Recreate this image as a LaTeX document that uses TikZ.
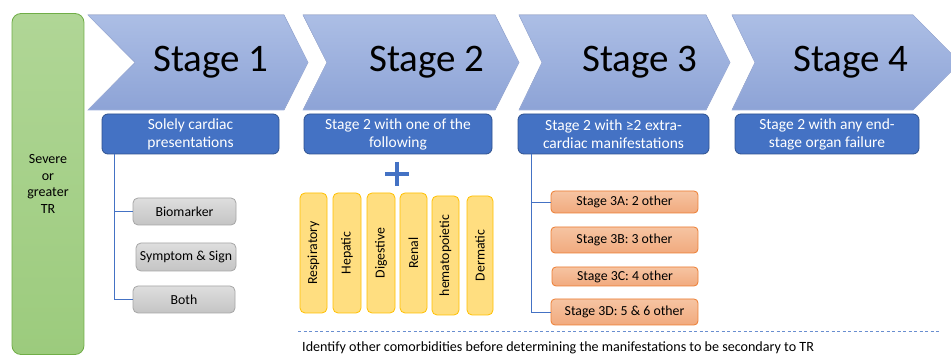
\documentclass[tikz,border=0pt]{standalone}
\usepackage{fontspec}
\setmainfont{Carlito}
\definecolor{chevtop}{RGB}{172,190,229}
\definecolor{chevbot}{RGB}{141,163,214}
\definecolor{chevline}{RGB}{160,178,222}
\definecolor{bluebox}{RGB}{68,114,196}
\definecolor{blueline}{RGB}{47,82,143}
\definecolor{greentop}{RGB}{176,214,150}
\definecolor{greenbot}{RGB}{156,203,125}
\definecolor{greenline}{RGB}{112,173,71}
\definecolor{greytop}{RGB}{222,222,222}
\definecolor{greybot}{RGB}{196,196,196}
\definecolor{greyline}{RGB}{166,166,166}
\definecolor{yellowfill}{RGB}{255,222,128}
\definecolor{yellowline}{RGB}{255,192,0}
\definecolor{orangetop}{RGB}{246,196,162}
\definecolor{orangebot}{RGB}{241,170,126}
\definecolor{orangeline}{RGB}{237,125,49}
\tikzset{
  chev/.style={top color=chevtop, bottom color=chevbot, draw=chevline, line width=0.6pt},
  stagetxt/.style={font=\fontsize{39}{44}\selectfont, text=black},
  bluehead/.style={rounded corners=6pt, fill=bluebox, draw=blueline, line width=0.8pt, text=white,
    minimum height=40pt, inner sep=0pt, align=center, font=\fontsize{15.5}{18}\selectfont},
  greybox/.style={rounded corners=5pt, top color=greytop, bottom color=greybot, draw=greyline, line width=0.8pt,
    inner sep=0pt, font=\fontsize{13.8}{16}\selectfont},
  yelbox/.style={rounded corners=5pt, fill=yellowfill, draw=yellowline, line width=0.8pt, rotate=90,
    inner sep=0pt, font=\fontsize{13.8}{16}\selectfont},
  orbox/.style={rounded corners=4pt, top color=orangetop, bottom color=orangebot, draw=orangeline, line width=0.8pt,
    inner sep=0pt, font=\fontsize{13.8}{16}\selectfont},
  treeline/.style={draw=bluebox, line width=0.8pt},
}
\begin{document}
\begin{tikzpicture}[x=1pt,y=-1pt]
\useasboundingbox (0,0) rectangle (951,355);
\fill[white] (0,0) rectangle (951,355);
% green box
\node[rounded corners=9pt, top color=greentop, bottom color=greenbot, draw=greenline, line width=0.8pt,
  minimum width=72pt, minimum height=341pt, inner sep=0pt, align=center,
  font=\fontsize{14}{16.5}\selectfont] (tr) at (48,184) {Severe\\or\\greater\\TR};
% chevrons
\begin{scope}
\clip (0,0) rectangle (951,355);
\filldraw[chev] (88,15) -- (284,15) -- (308,62.5) -- (284,110) -- (88,110) -- (135,62.5) -- cycle;
\filldraw[chev] (303,15) -- (495,15) -- (519,62.5) -- (495,110) -- (303,110) -- (327,62.5) -- cycle;
\filldraw[chev] (519,15) -- (706,15) -- (730,62.5) -- (706,110) -- (519,110) -- (542,62.5) -- cycle;
\filldraw[chev] (732,15) -- (913,15) -- (960,62.5) -- (913,110) -- (732,110) -- (755,62.5) -- cycle;
\end{scope}
\node[stagetxt] (st1) at (211,62) {Stage 1};
\node[stagetxt] (st2) at (427,62) {Stage 2};
\node[stagetxt] (st3) at (640,62) {Stage 3};
\node[stagetxt] (st4) at (851,62) {Stage 4};
% blue heads
\node[bluehead, minimum width=177pt] (h1) at (190.5,134) {Solely cardiac\\presentations};
\node[bluehead, minimum width=188pt] (h2) at (398,134) {Stage 2 with one of the\\following};
\node[bluehead, minimum width=191pt] (h3) at (613.5,134) {Stage 2 with ≥2 extra-\\cardiac manifestations};
\node[bluehead, minimum width=184pt] (h4) at (827,134) {Stage 2 with any end-\\stage organ failure};
% stage 1 items
\node[greybox, minimum width=103pt, minimum height=27pt] (bio) at (184.5,211.5) {Biomarker};
\node[greybox, minimum width=100pt, minimum height=28pt] (sym) at (186,257) {Symptom \& Sign};
\node[greybox, minimum width=102pt, minimum height=27pt] (both) at (184,299.5) {Both};
\draw[treeline] ([xshift=13pt]h1.south west) |- (bio.west);
\draw[treeline] ([xshift=13pt]h1.south west) |- (both.west);
% plus
\draw[bluebox, line width=4.5pt] (385,174) -- (409,174);
\draw[bluebox, line width=4.5pt] (397,162) -- (397,186);
% stage 2 organs
\node[yelbox, minimum width=120pt, minimum height=27pt] (resp) at (313.5,253) {Respiratory};
\node[yelbox, minimum width=120pt, minimum height=28pt] (hep) at (347,253) {Hepatic};
\node[yelbox, minimum width=120pt, minimum height=28pt] (dig) at (381,253) {Digestive};
\node[yelbox, minimum width=120pt, minimum height=27pt] (ren) at (413.5,253) {Renal};
\node[yelbox, minimum width=119pt, minimum height=27pt] (hem) at (445.5,255.5) {hematopoietic};
\node[yelbox, minimum width=119pt, minimum height=26pt] (der) at (480,255.5) {Dermatic};
% stage 3 items
\node[orbox, minimum width=147pt, minimum height=22pt] (s3a) at (624.5,202) {Stage 3A: 2 other};
\node[orbox, minimum width=147pt, minimum height=26pt] (s3b) at (624.5,240) {Stage 3B: 3 other};
\node[orbox, minimum width=146pt, minimum height=19pt] (s3c) at (625,276.5) {Stage 3C: 4 other};
\node[orbox, minimum width=147pt, minimum height=26pt] (s3d) at (624.5,312) {Stage 3D: 5 \& 6 other};
\draw[treeline] ([xshift=14pt]h3.south west) |- (s3a.west);
\draw[treeline] ([xshift=14pt]h3.south west) |- (s3d.west);
% dashed line and note
\coordinate (dl) at (298,331);
\coordinate (dr) at (940,331);
\draw[bluebox!80, line width=0.8pt, dash pattern=on 3pt off 2.5pt] (dl) -- (dr);
\node[anchor=west, inner sep=0pt, font=\fontsize{14.1}{16}\selectfont] (note) at (302,348)
  {Identify other comorbidities before determining the manifestations to be secondary to TR};
\end{tikzpicture}
\end{document}
